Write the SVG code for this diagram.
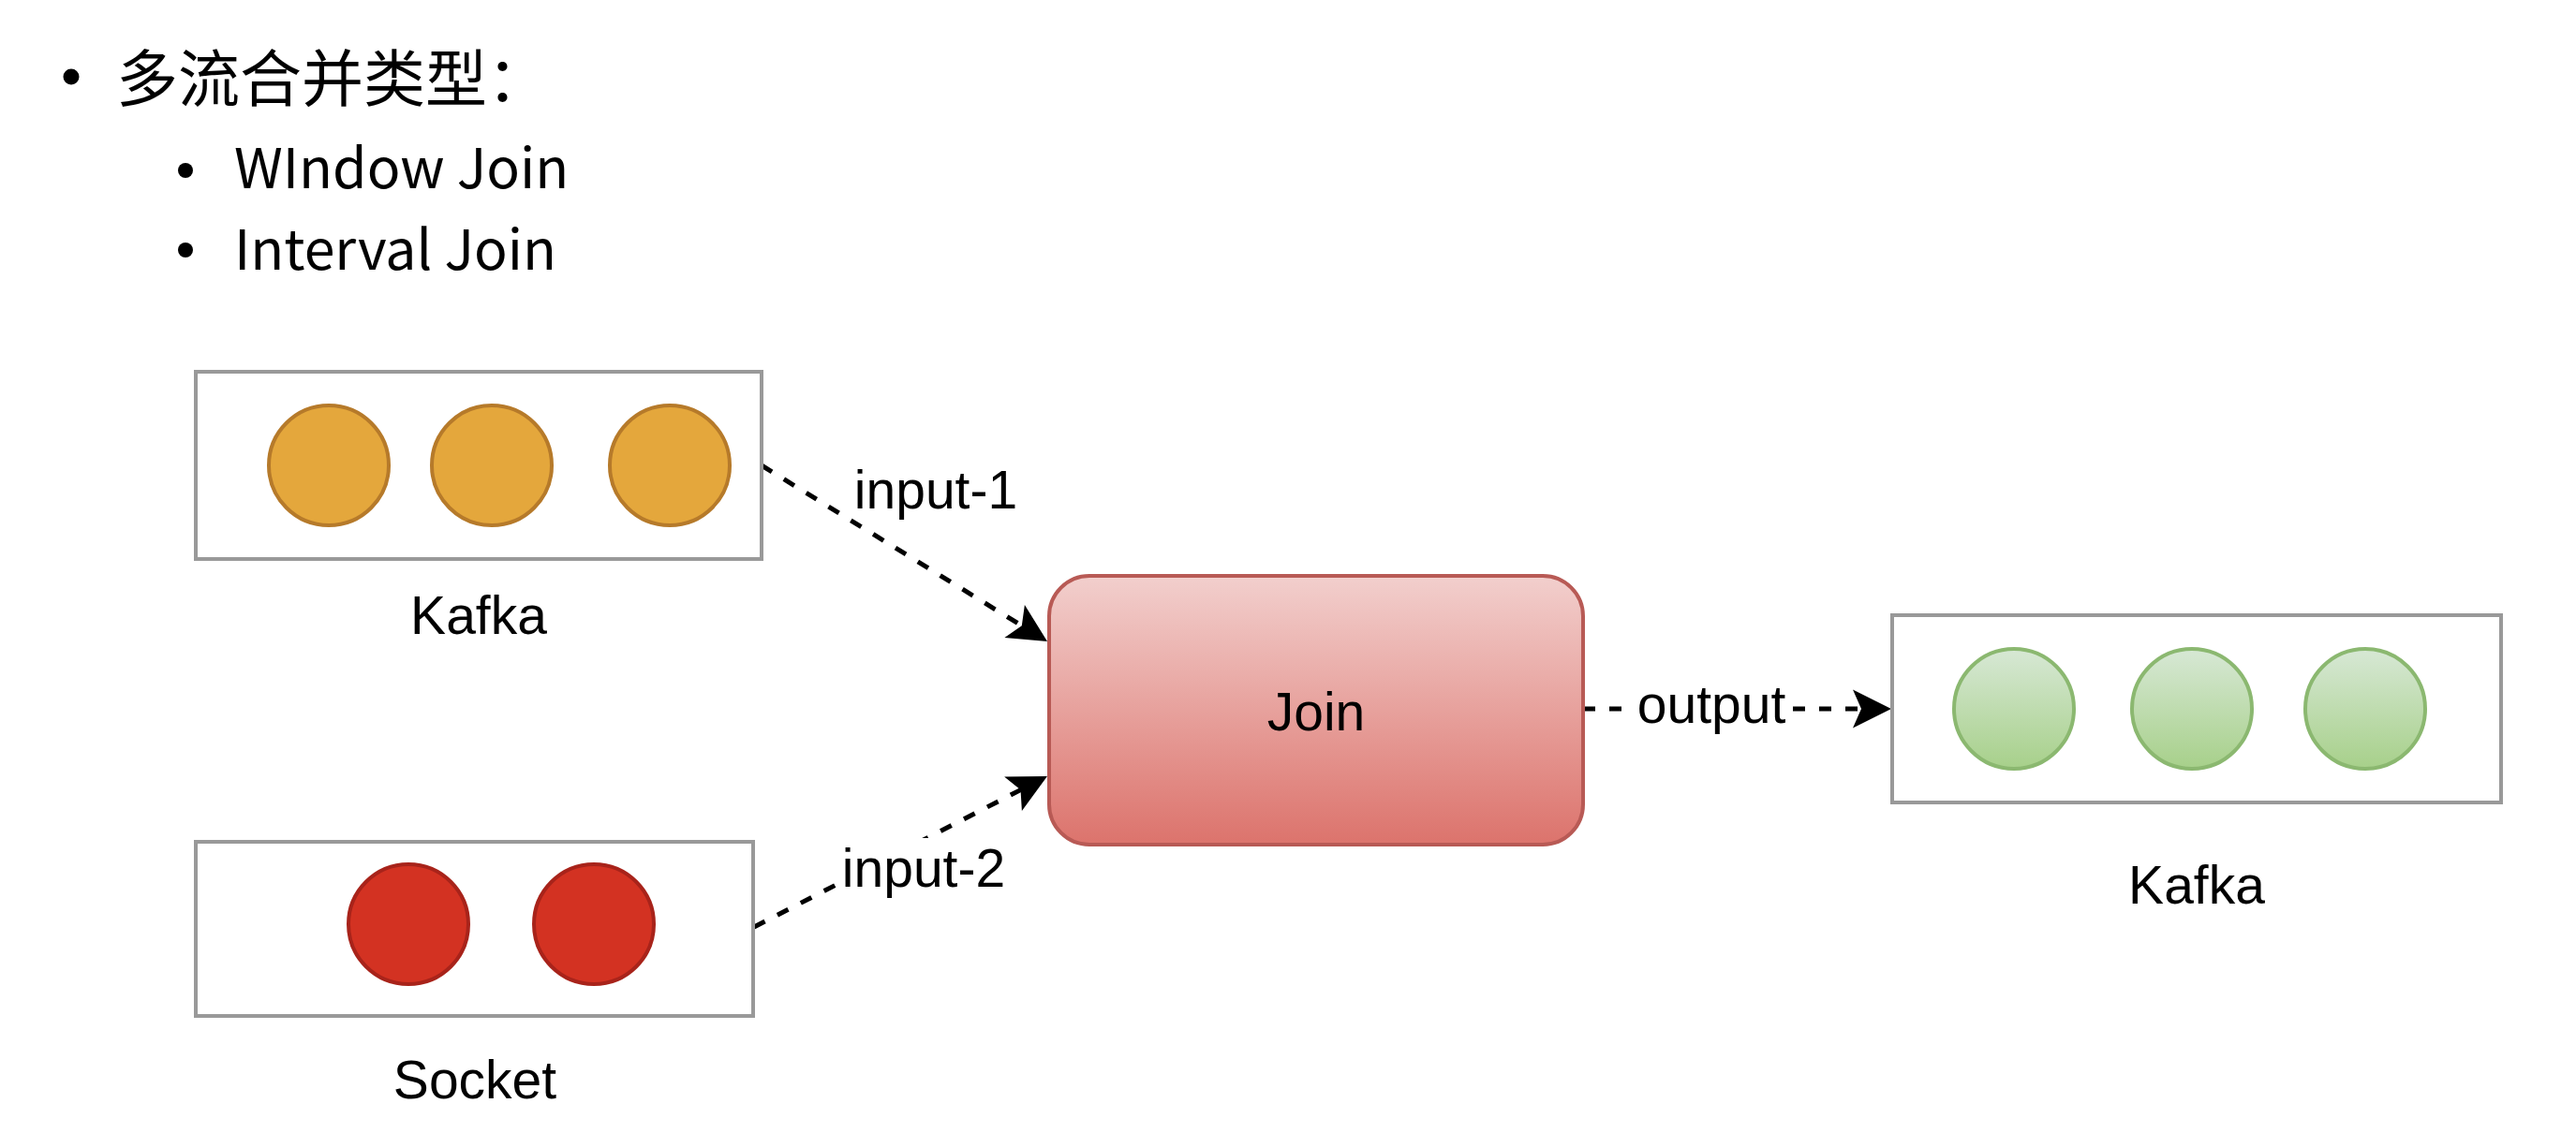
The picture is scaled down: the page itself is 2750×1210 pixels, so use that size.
<svg xmlns="http://www.w3.org/2000/svg" width="2750" height="1210" viewBox="0 0 2750 1210">
  <style>
    .hdr { font-family: "Noto Sans CJK SC", "Noto Sans", sans-serif; fill: #000000; }
    .lbl { font-family: "Liberation Sans", Arial, sans-serif; font-size: 57px; fill: #000000; }
    .box { fill: #ffffff; stroke: #999999; stroke-width: 4; }
    .orange { fill: #e4a73c; stroke: #b67a2a; stroke-width: 4; }
    .red { fill: #d33222; stroke: #a8231a; stroke-width: 4; }
    .green { fill: url(#gGreen); stroke: #8bb870; stroke-width: 4; }
    .edge { fill: none; stroke: #000000; stroke-width: 5; stroke-dasharray: 13 15; marker-end: url(#arrow); }
  </style>
  <defs>
    <linearGradient id="gGreen" x1="0" y1="0" x2="0" y2="1">
      <stop offset="0" stop-color="#d7e8d5"/>
      <stop offset="1" stop-color="#a7d08a"/>
    </linearGradient>
    <linearGradient id="gRed" x1="0" y1="0" x2="0" y2="1">
      <stop offset="0" stop-color="#f2cfcd"/>
      <stop offset="1" stop-color="#dc736c"/>
    </linearGradient>
    <marker id="arrow" markerUnits="userSpaceOnUse" viewBox="-44 -22 46 44" refX="-30" refY="0" markerWidth="46" markerHeight="44" orient="auto" overflow="visible">
      <path d="M0,0 L-41,-20.5 L-32,0 L-41,20.5 Z" fill="#000000" stroke="none"/>
    </marker>
  </defs>
  <rect x="0" y="0" width="2750" height="1210" fill="#ffffff"/>

  <g id="header">
    <circle cx="76" cy="82" r="8.5" fill="#000000"/>
    <text class="hdr" x="124" y="108" font-size="66">多流合并类型：</text>
    <circle cx="198" cy="182" r="8" fill="#000000"/>
    <text class="hdr" x="250" y="201" font-size="59">WIndow Join</text>
    <circle cx="198" cy="267" r="8" fill="#000000"/>
    <text class="hdr" x="250" y="288" font-size="59">Interval Join</text>
  </g>

  <g id="connectors">
    <line class="edge" x1="813" y1="497" x2="1092.5" y2="669.3"/>
    <line class="edge" x1="805" y1="990" x2="1091.3" y2="842.7"/>
    <line class="edge" x1="1690" y1="757" x2="1989" y2="757"/>
    <text class="lbl" x="999" y="543" text-anchor="middle">input-1</text>
    <rect x="895" y="895" width="180" height="66" fill="#ffffff"/>
    <text class="lbl" x="986" y="947" text-anchor="middle">input-2</text>
    <rect x="1745" y="730" width="166" height="52" fill="#ffffff"/>
    <text class="lbl" x="1827" y="772" text-anchor="middle">output</text>
  </g>

  <g id="kafka-in">
    <rect class="box" x="209" y="397" width="604" height="200"/>
    <circle class="orange" cx="351" cy="497" r="64"/>
    <circle class="orange" cx="525" cy="497" r="64"/>
    <circle class="orange" cx="715" cy="497" r="64"/>
    <text class="lbl" x="511" y="677" text-anchor="middle">Kafka</text>
  </g>

  <g id="socket-in">
    <rect class="box" x="209" y="899" width="595" height="186"/>
    <circle class="red" cx="436" cy="987" r="64"/>
    <circle class="red" cx="634" cy="987" r="64"/>
    <text class="lbl" x="507" y="1173" text-anchor="middle">Socket</text>
  </g>

  <g id="join">
    <rect x="1120" y="615" width="570" height="287" rx="43" ry="43" fill="url(#gRed)" stroke="#b85a55" stroke-width="4"/>
    <text class="lbl" x="1405" y="780" text-anchor="middle">Join</text>
  </g>

  <g id="kafka-out">
    <rect class="box" x="2020" y="657" width="650" height="200"/>
    <circle class="green" cx="2150" cy="757" r="64"/>
    <circle class="green" cx="2340" cy="757" r="64"/>
    <circle class="green" cx="2525" cy="757" r="64"/>
    <text class="lbl" x="2345" y="965" text-anchor="middle">Kafka</text>
  </g>
</svg>
